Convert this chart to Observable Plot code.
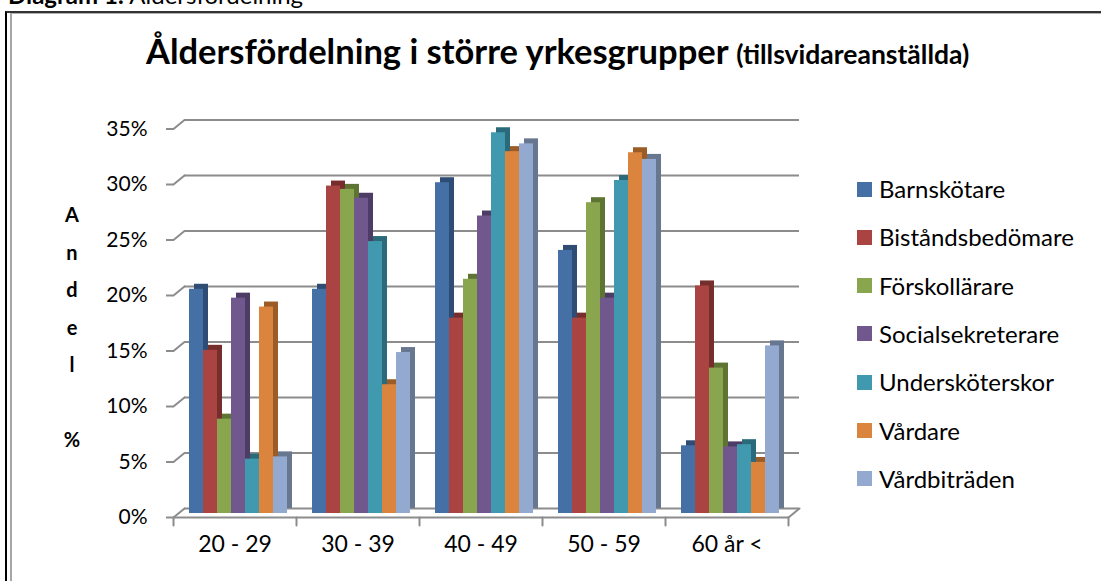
<!DOCTYPE html>
<html>
<head>
<meta charset="utf-8">
<script src="https://cdn.jsdelivr.net/npm/d3@7"></script>
<script src="https://cdn.jsdelivr.net/npm/@observablehq/plot@0.6"></script>
<style>
html,body{margin:0;padding:0;background:#fff;overflow:hidden;}
body{width:1101px;height:581px;position:relative;font-family:Lato,"Open Sans",sans-serif;color:#000;}
#caption{position:absolute;left:8px;top:-17px;font-size:24px;line-height:24px;white-space:nowrap;}
#frameOuter{position:absolute;left:5px;top:11px;width:1200px;height:700px;border-left:2px solid #000;border-top:2px solid #333;}
#frameInner{position:absolute;left:10px;top:13px;width:1200px;height:700px;border-left:2px solid #a6a6a6;border-top:1px solid #b0b0b0;}
#title{position:absolute;left:146px;top:34px;font-size:34.5px;line-height:34.5px;font-weight:bold;white-space:nowrap;}
#title span{font-size:26.5px;}
#ytitle{position:absolute;left:52px;top:196px;width:40px;text-align:center;font-weight:bold;font-size:20px;line-height:37.5px;white-space:pre;}
#chart{position:absolute;left:0;top:0;}
.leg{position:absolute;left:857px;height:30px;display:flex;align-items:center;font-size:24px;line-height:30px;white-space:nowrap;}
.leg i{display:inline-block;width:15px;height:15px;margin-right:7px;}
</style>
</head>
<body>
<div id="caption"><b>Diagram 1:</b> Åldersfördelning</div>
<div id="frameOuter"></div>
<div id="frameInner"></div>
<div id="title">Åldersfördelning i större yrkesgrupper <span>(tillsvidareanställda)</span></div>
<div id="ytitle">A
n
d
e
l

%</div>
<div id="chart"></div>
<div id="legend"></div>
<script>
// ---- data ----
const groups = ["20 - 29", "30 - 39", "40 - 49", "50 - 59", "60 år <"];
const series = ["Barnskötare", "Biståndsbedömare", "Förskollärare", "Socialsekreterare", "Undersköterskor", "Vårdare", "Vårdbiträden"];
const barnskotare       = [20.2, 20.2, 29.8, 23.7, 6.1];
const bistandsbedomare  = [14.7, 29.5, 17.6, 17.6, 20.5];
const forskollarare     = [8.5, 29.2, 21.1, 28.0, 13.1];
const socialsekreterare = [19.4, 28.4, 26.8, 19.4, 6.0];
const underskoterskor   = [4.9, 24.5, 34.3, 30.0, 6.2];
const vardare           = [18.6, 11.6, 32.6, 32.5, 4.6];
const vardbitraden      = [5.1, 14.5, 33.3, 31.9, 15.1];
const yTicks = [0, 5, 10, 15, 20, 25, 30, 35];

// ---- styles ----
const frontColors = ["#4470A6", "#A94442", "#89A54E", "#70588F", "#4099AE", "#DB843D", "#93A9D0"];
const sideColors  = ["#2E4C74", "#762E2C", "#5E7433", "#4D3C65", "#2A6A7B", "#9B5C27", "#66778F"];
const gridColor = "#8c8c8c";

const seriesValues = [barnskotare, bistandsbedomare, forskollarare, socialsekreterare, underskoterskor, vardare, vardbitraden];
const data = [];
series.forEach((s, si) => groups.forEach((g, gi) => data.push({group: g, series: s, value: seriesValues[si][gi], si})));

const seg = {draw(context, l) { context.moveTo(0, 0); context.lineTo(0, -l); }};

const chart = Plot.plot({
  width: 1101,
  height: 581,
  marginLeft: 172,
  marginRight: 313,
  marginTop: 124.5,
  marginBottom: 68,
  style: {fontFamily: "Lato, 'Open Sans', sans-serif", fontSize: "21px", color: "#000", background: "transparent", overflow: "visible"},
  fx: {domain: groups, padding: 0, axis: null, label: null},
  x: {domain: series, paddingInner: 0, paddingOuter: 0.72, axis: null, label: null},
  y: {domain: [0, 35], label: null},
  color: {type: "identity"},
  marks: [
    // back wall gridlines
    Plot.ruleY(yTicks, {dx: 11, dy: -5, stroke: gridColor, strokeWidth: 2}),
    // left wall diagonals
    Plot.vector(yTicks, {fx: () => groups[0], y: d => d, frameAnchor: "left", rotate: 50.7, length: 14.2, anchor: "start", dy: 4, shape: seg, stroke: gridColor, strokeWidth: 2}),
    // floor front edge
    Plot.ruleY([0], {dy: 4, stroke: gridColor, strokeWidth: 2}),
    // floor right diagonal
    Plot.vector([groups[groups.length - 1]], {fx: d => d, y: () => 0, frameAnchor: "right", rotate: 50.7, length: 14.2, anchor: "start", dy: 4, shape: seg, stroke: gridColor, strokeWidth: 2}),
    // group ticks on floor
    Plot.vector(groups, {fx: d => d, y: () => 0, frameAnchor: "left", rotate: 180, length: 8, anchor: "start", dy: 4, shape: seg, stroke: gridColor, strokeWidth: 2}),
    Plot.vector([groups[groups.length - 1]], {fx: d => d, y: () => 0, frameAnchor: "right", rotate: 180, length: 8, anchor: "start", dy: 4, shape: seg, stroke: gridColor, strokeWidth: 2}),
    // bar depth (side + top)
    Plot.barY(data, {fx: "group", x: "series", y: "value", fill: d => sideColors[d.si], dx: 8, dy: -5}),
    // bar front faces
    Plot.barY(data, {fx: "group", x: "series", y: "value", fill: d => frontColors[d.si], dx: 3}),
    // y axis
    Plot.axisY({ticks: yTicks, tickFormat: d => d + "%", tickSize: 7, tickPadding: 19, dy: 4, stroke: gridColor, strokeWidth: 2, line: true, fontSize: 21, label: null, fill: "#000"}),
    // group labels
    Plot.text(groups, {fx: d => d, text: d => d, frameAnchor: "bottom", dy: 38, fontSize: 23, fill: "#000"})
  ]
});
document.getElementById("chart").appendChild(chart);

// legend
const legend = document.getElementById("legend");
series.forEach((s, i) => {
  const row = document.createElement("div");
  row.className = "leg";
  row.style.top = (174 + 48.3 * i) + "px";
  row.innerHTML = `<i style="background:${frontColors[i]}"></i>${s}`;
  legend.appendChild(row);
});
</script>
</body>
</html>
